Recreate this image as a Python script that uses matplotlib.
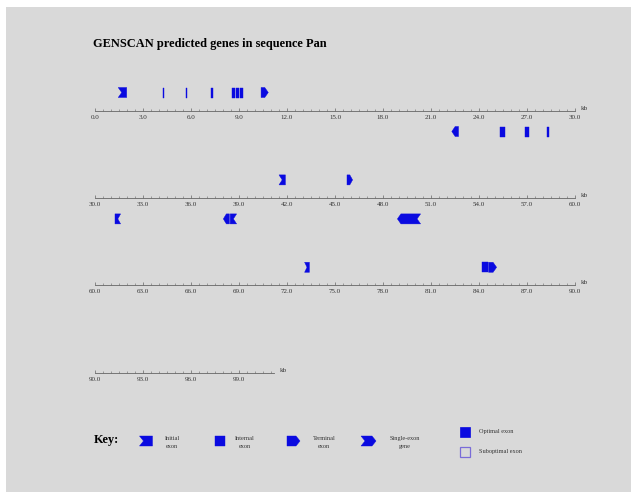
# GENSCAN predicted genes - Pan
import numpy as np
import matplotlib
matplotlib.use("Agg")
import matplotlib.pyplot as plt
from matplotlib.patches import Polygon, Rectangle
from matplotlib.ticker import FixedLocator, FuncFormatter

seq_len = 101.2
row_kb = 30.0

exon_start = [1.45, 4.22, 5.66, 7.27, 8.55, 8.82, 9.05, 10.38,
              22.30, 25.30, 26.90, 28.25, 31.25,
              38.02, 38.45, 41.50, 45.75, 48.90, 73.10, 84.20, 84.60]
exon_end = [1.98, 4.34, 5.78, 7.39, 8.75, 9.00, 9.23, 10.83,
            22.72, 25.60, 27.10, 28.40, 31.60,
            38.40, 38.85, 41.90, 46.10, 50.35, 73.40, 84.58, 85.10]
exon_strand = ['+'] * 8 + ['-'] * 5 + ['-', '-', '+', '+', '-', '+', '+', '+']
exon_type = ['Init', 'Intr', 'Intr', 'Intr', 'Intr', 'Intr', 'Intr', 'Term',
             'Term', 'Intr', 'Intr', 'Intr', 'Init',
             'Term', 'Init', 'Init', 'Term', 'Sngl', 'Init', 'Intr', 'Term']

key_types = ['Init', 'Intr', 'Term', 'Sngl']
key_labels = ['Initial\nexon', 'Internal\nexon', 'Terminal\nexon', 'Single-exon\ngene']

W, H = 631, 492
BLUE = '#0a0ae0'
BG = '#d9d9d9'
SERIF = 'Liberation Serif'


def exon_points(s, e, y0, h, kind, strand, d):
    d = min(d, (e - s) / 2.0)
    top, bot = y0 + h / 2.0, y0 - h / 2.0
    if strand == '+':
        left = 'notch' if kind in ('Init', 'Sngl') else 'flat'
        right = 'point' if kind in ('Term', 'Sngl') else 'flat'
    else:
        left = 'point' if kind in ('Term', 'Sngl') else 'flat'
        right = 'notch' if kind in ('Init', 'Sngl') else 'flat'
    if left == 'flat':
        pts = [(s, bot), (s, top)]
    elif left == 'notch':
        pts = [(s, bot), (s + d, y0), (s, top)]
    else:
        pts = [(s + d, bot), (s, y0), (s + d, top)]
    if right == 'flat':
        pts += [(e, top), (e, bot)]
    elif right == 'notch':
        pts += [(e, top), (e - d, y0), (e, bot)]
    else:
        pts += [(e - d, top), (e, y0), (e - d, bot)]
    return pts


fig = plt.figure(figsize=(W / 100, H / 100), dpi=100)
fig.patch.set_facecolor('white')
fig.patches.append(Rectangle((6 / W, 0), 1, 1 - 7 / H, transform=fig.transFigure,
                             facecolor=BG, edgecolor='none', zorder=-10))

fig.text(93 / W, 1 - 43.5 / H, 'GENSCAN predicted genes in sequence Pan',
         fontsize=8.9, fontweight='bold', family=SERIF, va='center', ha='left')

n_rows = int(np.ceil(seq_len / row_kb))
x0_px, x1_px = 95, 575
for r in range(n_rows):
    lo = r * row_kb
    hi = min(lo + row_kb, seq_len)
    yline = 110.5 + 87.4 * r
    ax = fig.add_axes([x0_px / W, 1 - (yline + 30) / H, (x1_px - x0_px) / W, 60 / H])
    ax.set_xlim(lo, lo + row_kb)
    ax.set_ylim(-30, 30)
    ax.patch.set_alpha(0)
    for side in ('top', 'left', 'right'):
        ax.spines[side].set_visible(False)
    ax.spines['bottom'].set_position(('data', 0))
    ax.spines['bottom'].set_bounds(lo, hi)
    ax.spines['bottom'].set_linewidth(0.6)
    ax.spines['bottom'].set_color('#666666')
    ax.set_yticks([])
    ax.xaxis.set_major_locator(FixedLocator(np.arange(lo, hi + 0.01, 3.0)))
    ax.xaxis.set_minor_locator(FixedLocator(np.arange(lo, hi + 0.01, 0.5)))
    ax.xaxis.set_major_formatter(FuncFormatter(lambda v, p: '%.1f' % v))
    ax.tick_params(axis='x', which='major', direction='in', length=2.4, width=0.5,
                   color='#666666', pad=3, labelsize=5, labelcolor='#333333')
    ax.tick_params(axis='x', which='minor', direction='in', length=1.2, width=0.4,
                   color='#666666')
    for lab in ax.get_xticklabels():
        lab.set_family(SERIF)
    ax.text(hi + 0.35, 2.5, 'kb', fontsize=5, family=SERIF, ha='left', va='center',
            color='#333333')

    for s, e, st, k in zip(exon_start, exon_end, exon_strand, exon_type):
        if s < lo or s >= hi:
            continue
        yc = 18 if st == '+' else -21
        ax.add_patch(Polygon(exon_points(s, e, yc, 10, k, st, 0.22), closed=True,
                             facecolor=BLUE, edgecolor=BLUE, linewidth=0.3))

# key
kax = fig.add_axes([0, 0, 1, 1])
kax.set_xlim(0, W)
kax.set_ylim(H, 0)
kax.axis('off')
kax.patch.set_alpha(0)
kax.text(94, 440, 'Key:', fontsize=8.8, fontweight='bold', family=SERIF, va='center')
key_x = [139.5, 214.5, 287, 361]
key_w = [13, 10, 13, 15]
text_x = [172, 245, 324, 405]
for kx, kw, tx, k, lab in zip(key_x, key_w, text_x, key_types, key_labels):
    pts = [(x, 441 - y) for x, y in exon_points(kx, kx + kw, 0, 10, k, '+', 4)]
    kax.add_patch(Polygon(pts, closed=True, facecolor=BLUE, edgecolor=BLUE, linewidth=0.3))
    kax.text(tx, 442.5, lab, fontsize=4.5, family=SERIF, ha='center', va='center',
             multialignment='center', color='#333333', linespacing=1.6)

kax.add_patch(Rectangle((460, 427), 10, 10, facecolor=BLUE, edgecolor=BLUE, linewidth=0.5))
kax.add_patch(Rectangle((460, 446.5), 10, 10, facecolor='none', edgecolor='#7a6cd8', linewidth=0.9))
kax.text(479, 431.7, 'Optimal exon', fontsize=4.5, family=SERIF, va='center', color='#333333')
kax.text(479, 451, 'Suboptimal exon', fontsize=4.5, family=SERIF, va='center', color='#333333')

fig.savefig('out.png', dpi=100, facecolor=fig.get_facecolor())
